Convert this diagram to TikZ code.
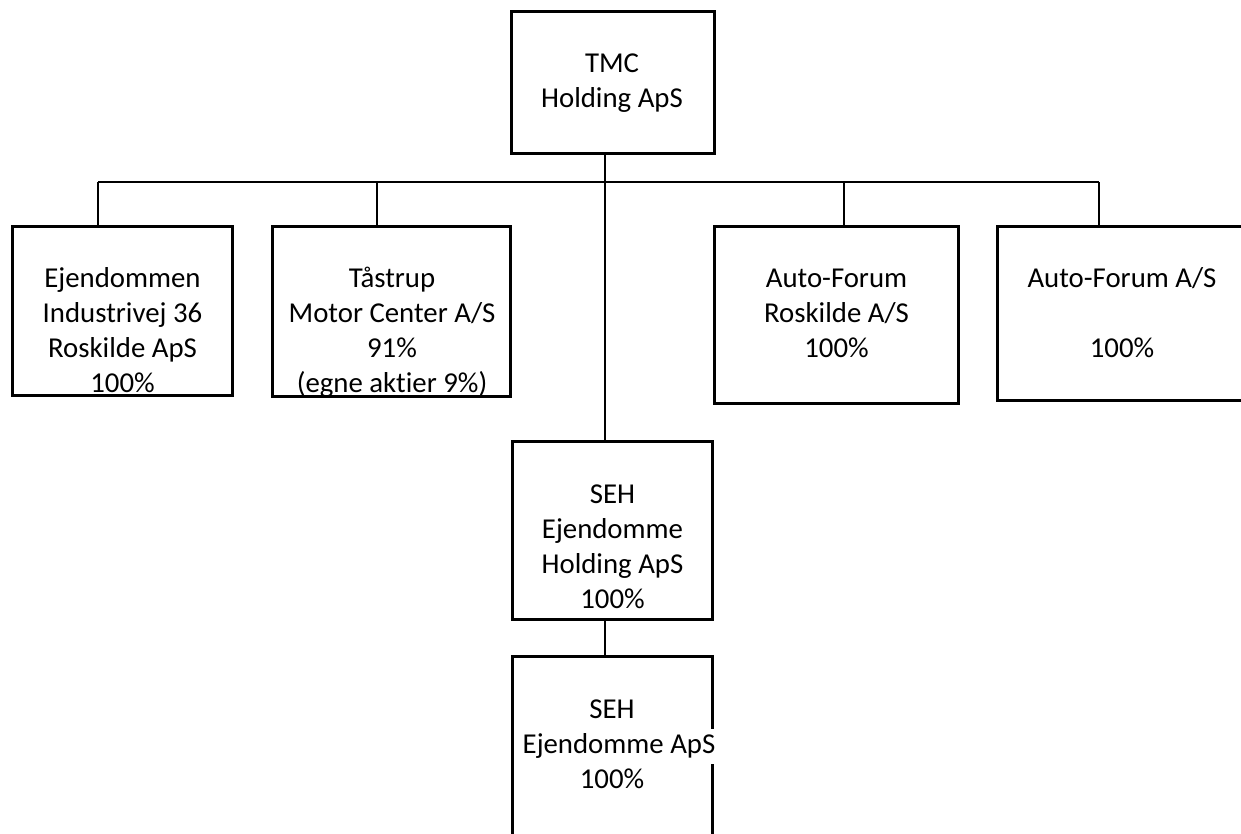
\documentclass[tikz,border=0pt]{standalone}
\usepackage{fontspec}
\setmainfont{Carlito}[Ligatures={NoCommon}]
\begin{document}
\begin{tikzpicture}[x=1pt,y=-1pt,
  box/.style={draw, line width=3pt, inner sep=0pt},
  conn/.style={line width=1.6pt},
  lbl/.style={align=center, anchor=base, inner sep=0pt, font=\fontsize{28.8}{35}\selectfont}]
\useasboundingbox (0,0) rectangle (1241,833);
% boxes
\node[box, minimum width=202.5pt, minimum height=142pt] (tmc) at (612.75,82) {};
\node[box, minimum width=220pt, minimum height=169pt] (ej) at (122,310.5) {};
\node[box, minimum width=238pt, minimum height=170pt] (ta) at (391,311) {};
\node[box, minimum width=243.5pt, minimum height=177pt] (afr) at (836.25,314.5) {};
\node[box, minimum width=263pt, minimum height=174pt] (afa) at (1128.5,313) {};
\node[box, minimum width=200pt, minimum height=178pt] (sehh) at (612,530) {};
\node[box, minimum width=200pt, minimum height=204pt] (sehe) at (612,758) {};
% connectors
\coordinate (bL) at (98,182);
\coordinate (bR) at (1099,182);
\coordinate (bT) at (377,182);
\coordinate (bA) at (844,182);
\draw[conn] (bL) -- (bR);
\draw[conn] (tmc.south -| 605,0) -- (sehh.north -| 605,0);
\draw[conn] (bL) -- (bL |- ej.north);
\draw[conn] (bT) -- (bT |- ta.north);
\draw[conn] (bA) -- (bA |- afr.north);
\draw[conn] (bR) -- (bR |- afa.north);
\draw[conn] (sehh.south -| 605,0) -- (sehe.north -| 605,0);
% labels
\node[lbl] (ltmc) at (612,107) {TMC\\Holding ApS};
\node[lbl] (lej) at (122.5,392) {Ejendommen\\Industrivej 36\\Roskilde ApS\\100\%};
\node[lbl] (lta) at (392,392) {Tåstrup\\Motor Center A/S\\91\%\\(egne akt\kern0pt ier 9\%)};
\node[lbl] (lafr) at (836.5,357) {Auto-Forum\\Roskilde A/S\\100\%};
\node[lbl] (lafa) at (1122,357) {Auto-Forum A/S\\[35pt]100\%};
\node[lbl] (lsehh) at (612.5,608) {SEH\\Ejendomme\\Holding ApS\\100\%};
\node[lbl] (lsehe) at (612,788) {SEH\\{\setlength\fboxsep{0pt}\hspace*{14pt}\colorbox{white}{\strut Ejendomme ApS}}\\100\%};
\end{tikzpicture}
\end{document}
